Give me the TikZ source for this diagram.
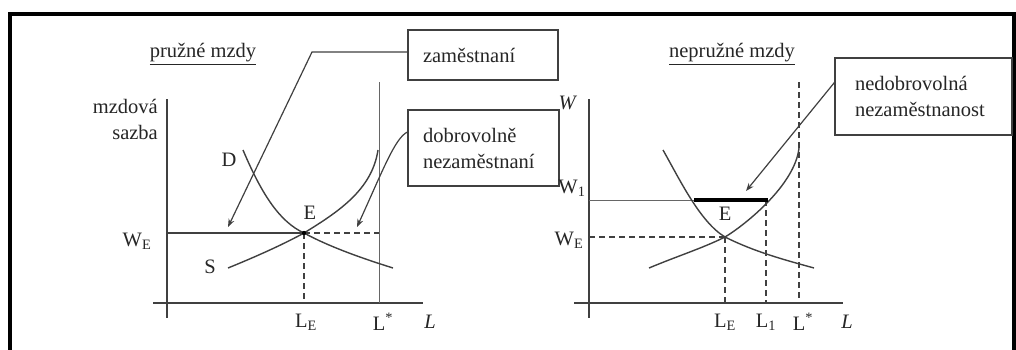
\documentclass[tikz,border=0pt]{standalone}
\usepackage{fontspec}
\setmainfont{Liberation Serif}
\usetikzlibrary{arrows.meta}
\definecolor{ln}{HTML}{404040}
\definecolor{tx}{HTML}{262626}
\begin{document}
\begin{tikzpicture}[x=1pt,y=-1pt,
  lbl/.style={font=\fontsize{20.5}{26}\selectfont, text=tx, inner sep=0pt},
  axis/.style={draw=ln, line width=1.4pt},
  curve/.style={draw=ln, line width=1.4pt},
  thinln/.style={draw=ln!80, line width=0.9pt},
  dsh/.style={draw=ln, line width=1.4pt, dash pattern=on 6pt off 4pt},
  box/.style={draw=ln, line width=1.2pt, align=left, font=\fontsize{20.5}{26}\selectfont, text=tx, inner ysep=0pt},
  arr/.style={draw=ln, line width=1.2pt, -{Stealth[length=8pt,width=6pt]}}
]
\useasboundingbox (0,0) rectangle (1016,349);
\fill[white] (0,0) rectangle (1016,349);
% frame
\draw[line width=4pt, black, line join=miter] (10,352) -- (10,14) -- (1014,14) -- (1014,352);

% ---------- left chart ----------
\node[lbl] (t1) at (203,54) {\underline{pružné mzdy}};
\node[lbl, align=right, anchor=east] (mz) at (158,119) {mzdová\\sazba};
\draw[axis] (167,99) -- (167,318);
\draw[axis] (153,303) -- (423,303);
\coordinate (E1) at (304,233);
\draw[axis] (167,233) -- (E1);
\draw[dsh] (E1) -- (383,233);
\draw[dsh] (E1) -- (304,303);
\draw[thinln] (379,82) -- (379,303);
\draw[curve] (243,150) .. controls (262,195) and (280,222) .. (E1) .. controls (328,246) and (358,257) .. (393,268);
\draw[curve] (228,268) .. controls (255,257) and (282,245) .. (E1) .. controls (338,212) and (372,190) .. (378,150);
\fill[black] (E1) circle (2.2pt);
\node[lbl] (D1) at (229,160) {D};
\node[lbl] (S1) at (210,267) {S};
\node[lbl] (El1) at (310,213) {E};
\node[lbl] (WE1) at (137,241) {W\textsubscript{E}};
\node[lbl] (LE1) at (306,322) {L\textsubscript{E}};
\node[lbl] (Ls1) at (383,322) {L\textsuperscript{*}};
\node[lbl] (L1) at (430,322) {\textit{L}};

\node[box, minimum width=150pt, minimum height=50pt, text width=120pt, inner xsep=15pt] (zam) at (483,55) {zaměstnaní};
\node[box, minimum width=151pt, minimum height=76pt, text width=121pt, inner xsep=15pt] (dob) at (483.5,148) {dobrovolně\\nezaměstnaní};
\coordinate (zamb) at (312,52);
\coordinate (zamtip) at (228,227);
\draw[arr] ([yshift=3pt]zam.west) -- (zamb) -- (zamtip);
\coordinate (dobtip) at (357,227);
\draw[arr] ([yshift=16pt]dob.west) .. controls (395,138) and (383,170) .. (dobtip);

% ---------- right chart ----------
\node[lbl] (t2) at (732,54) {\underline{nepružné mzdy}};
\draw[axis] (589,99) -- (589,318);
\draw[axis] (574,303) -- (843,303);
\coordinate (E2) at (725,237);
\draw[thinln] (589,200) -- (694,200);
\draw[dsh] (589,237) -- (E2);
\draw[dsh] (E2) -- (725,303);
\draw[dsh] (766,200) -- (766,303);
\draw[dsh] (799,82) -- (799,303);
\draw[curve] (663,150) .. controls (680,180) and (700,222) .. (E2) .. controls (755,252) and (785,260) .. (814,268);
\draw[curve] (649,268) .. controls (675,257) and (703,248) .. (E2) .. controls (745,225) and (795,185) .. (799,148);
\draw[line width=4pt, black] (694,200) -- (768,200);
\node[lbl] (W2) at (568,103) {\textit{W}};
\node[lbl] (W12) at (572,188) {W\textsubscript{1}};
\node[lbl] (WE2) at (569,240) {W\textsubscript{E}};
\node[lbl] (El2) at (725,214) {E};
\node[lbl] (LE2) at (725,322) {L\textsubscript{E}};
\node[lbl] (L12) at (766,322) {L\textsubscript{1}};
\node[lbl] (Ls2) at (803,322) {L\textsuperscript{*}};
\node[lbl] (L2) at (847,322) {\textit{L}};

\node[box, minimum width=177pt, minimum height=77pt, text width=137pt, inner xsep=20pt] (ned) at (923.5,96.5) {nedobrovolná\\nezaměstnanost};
\coordinate (nedtip) at (746,191);
\draw[arr] ([yshift=14pt]ned.west) -- (nedtip);
\end{tikzpicture}
\end{document}
